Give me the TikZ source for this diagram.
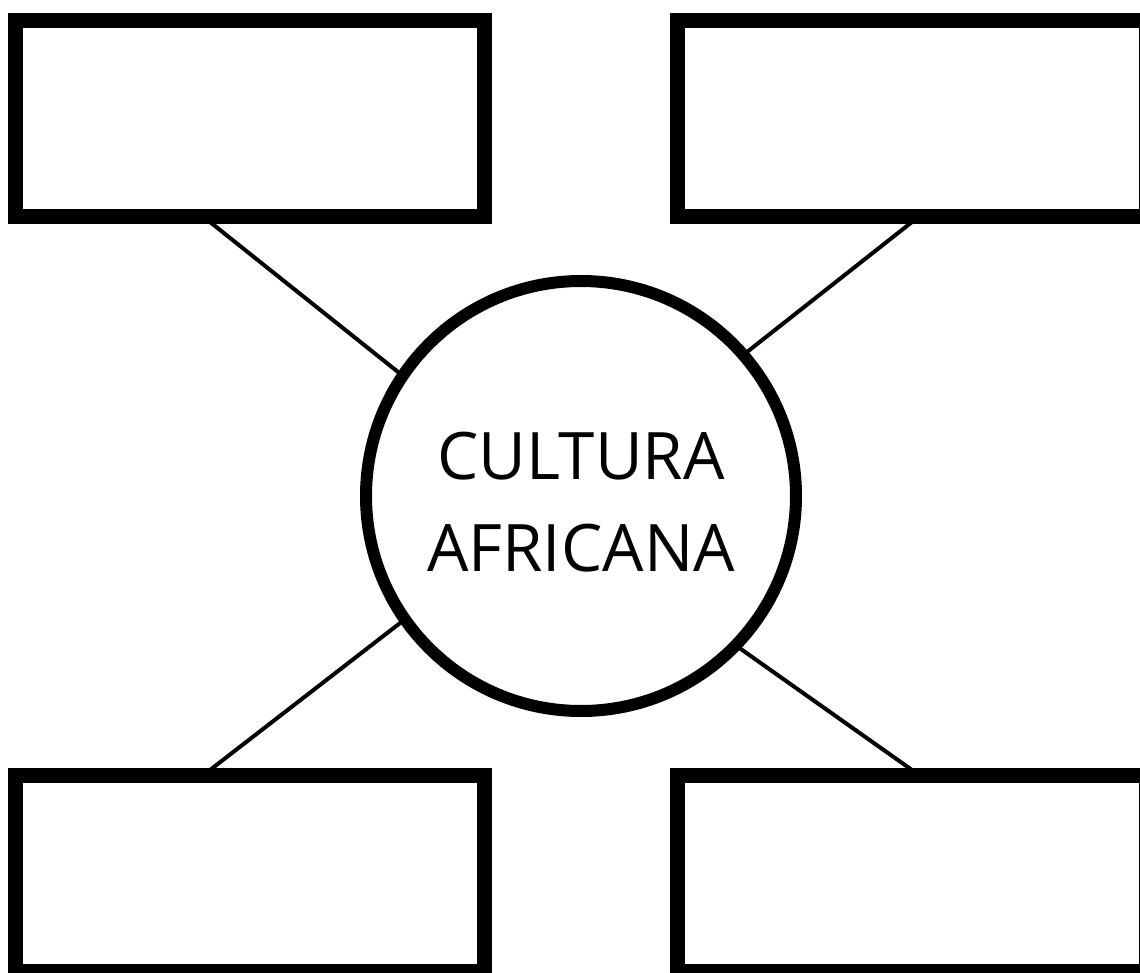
\documentclass[tikz,border=0pt]{standalone}
\usepackage{fontspec}
\setmainfont{Open Sans}
\begin{document}
\begin{tikzpicture}[x=1pt,y=-1pt,
  box/.style={draw=black,line width=15pt,fill=white,rectangle,minimum width=469pt,minimum height=196pt,inner sep=0pt,outer sep=0pt},
  hub/.style={draw=black,line width=12pt,fill=white,circle,minimum size=430pt,inner sep=0pt,outer sep=0pt},
  hubtext/.style={align=center,inner sep=0pt,font=\fontsize{65.5}{92}\selectfont},
  link/.style={draw=black,line width=4pt}]
\useasboundingbox (0,0) rectangle (1140,973);
\node[box] (tl) at (250,118.5) {};
\node[box] (tr) at (912,118.5) {};
\node[box] (bl) at (250,873.5) {};
\node[box] (br) at (912,873.5) {};
\node[hub] (c) at (581,496) {};
\node[hubtext] (t) at (581,502) {CULTURA\\AFRICANA};
\coordinate (p1) at (210,222);
\coordinate (p2) at (912,222);
\coordinate (p3) at (210,770);
\coordinate (p4) at (912,770);
\draw[link] (p1) -- (c.146.5);
\draw[link] (p2) -- (c.41.7);
\draw[link] (p3) -- (c.215);
\draw[link] (p4) -- (c.316.6);
\end{tikzpicture}
\end{document}
